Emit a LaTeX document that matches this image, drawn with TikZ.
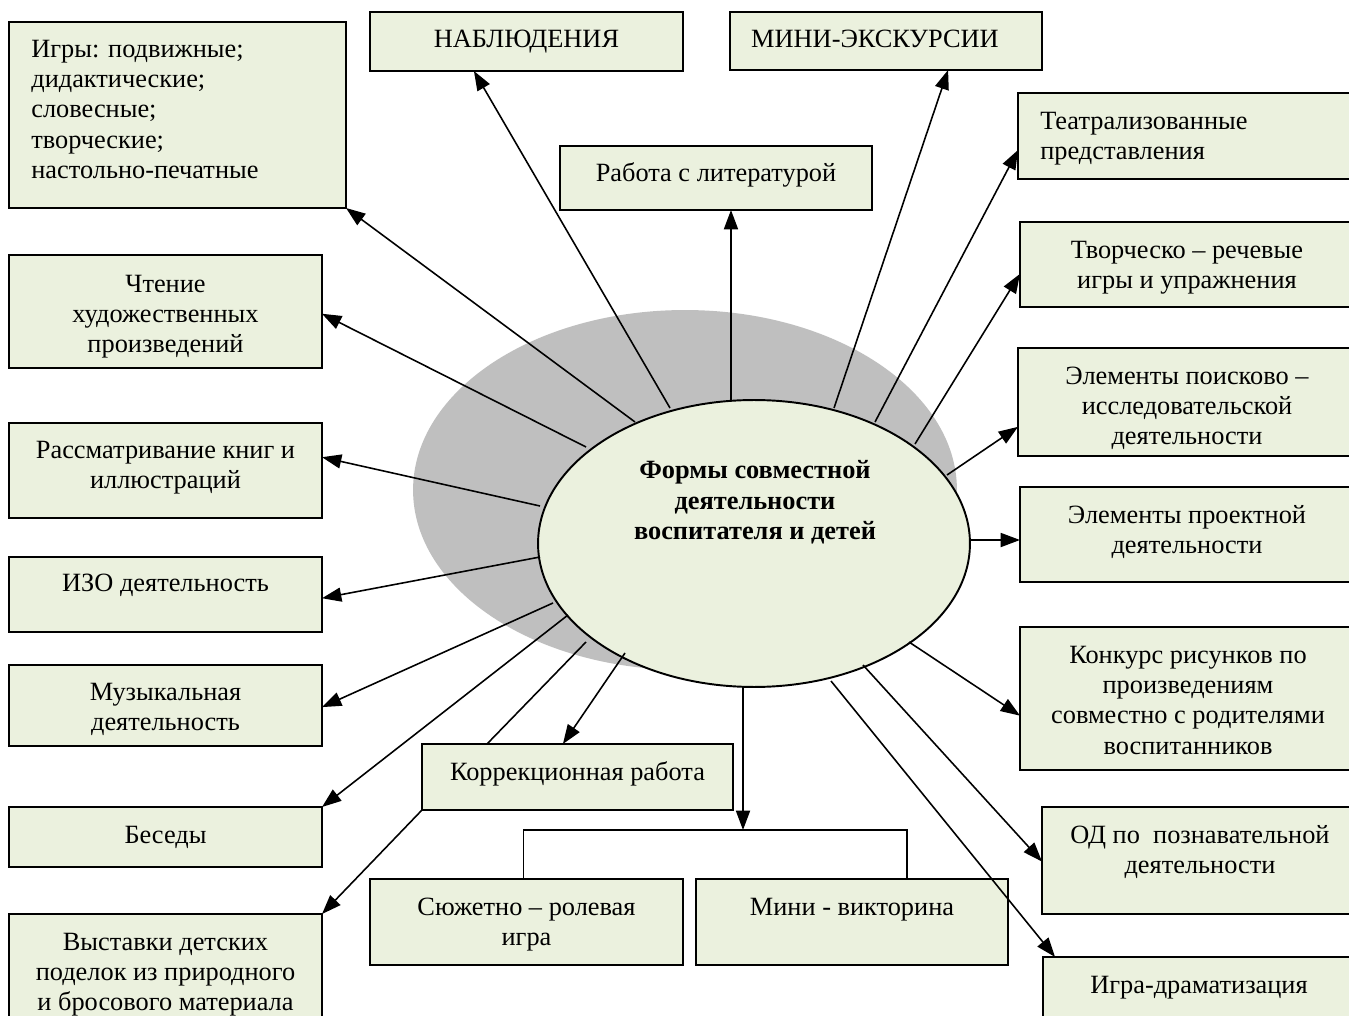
\documentclass[tikz,border=0pt]{standalone}
\usepackage{fontspec}
\setmainfont{Liberation Serif}
\usetikzlibrary{arrows.meta,shapes.geometric,calc}
\definecolor{boxfill}{RGB}{235,241,222}
\definecolor{shadegray}{RGB}{191,191,191}
\tikzset{
 box/.style={draw=black, fill=boxfill, line width=1.1pt, inner sep=0pt, outer sep=0pt, anchor=north west},
 txt/.style={inner sep=0pt, font=\fontsize{15}{17.2}\selectfont, align=center, anchor=base},
 ltxt/.style={txt, align=left, anchor=base west},
 conn/.style={draw=black, line width=0.9pt},
 arr/.style={conn, -{Triangle[length=11pt,width=8pt]}},
}
\newcommand\bx[5]{\node[box, minimum width={(#4-#2)*0.02cm}, minimum height={(#5-#3)*0.02cm}] (#1) at (#2,#3) {};}
\begin{document}
\begin{tikzpicture}[x=0.02cm,y=-0.02cm]
\useasboundingbox (0,0) rectangle (1349,1016);
\clip (0,0) rectangle (1349,1016);
\fill[white] (0,0) rectangle (1349,1016);
% shadow ellipse
\fill[shadegray] (685,490) ellipse [x radius=5.44cm, y radius=3.6cm];
% main ellipse
\node[ellipse, draw=black, fill=boxfill, line width=1.1pt, inner sep=0pt, minimum width=8.64cm, minimum height=5.74cm] (E) at (754,543.5) {};
\node[txt, font=\fontsize{15}{17.6}\selectfont\bfseries] (title) at (755,540) {Формы совместной\\деятельности\\воспитателя и детей};
% boxes
\bx{igry}{9}{22}{346}{208}
\bx{nabl}{370}{12}{683}{71}
\bx{mini}{730}{12}{1042}{70}
\bx{rabota}{560}{146}{872}{210}
\bx{teatr}{1018}{93}{1360}{179}
\bx{tvorch}{1020}{222}{1360}{307}
\bx{poisk}{1018}{348}{1360}{456}
\bx{proekt}{1020}{487}{1360}{582}
\bx{konk}{1020}{627}{1360}{770}
\bx{od}{1042}{807}{1360}{914}
\bx{igradr}{1043}{957}{1360}{1030}
\bx{chten}{9}{255}{322}{368}
\bx{rassm}{9}{423}{322}{518}
\bx{izo}{9}{557}{322}{632}
\bx{muz}{9}{665}{322}{746}
\bx{besedy}{9}{807}{322}{867}
\bx{vyst}{9}{914}{322}{1030}
\bx{korr}{422}{744}{733}{810}
\bx{syuzh}{370}{879}{683}{965}
\bx{minivik}{696}{879}{1008}{965}
% texts (anchor = baseline of the last line)
\node[ltxt] (t-igry) at (31,178.4) {Игры: подвижные;\\дидактические;\\словесные;\\творческие;\\настольно-печатные};
\node[txt] (t-nabl) at (526.5,48) {НАБЛЮДЕНИЯ};
\node[txt] (t-mini) at (875,48) {МИНИ-ЭКСКУРСИИ};
\node[txt] (t-rabota) at (716,182) {Работа с литературой};
\node[ltxt] (t-teatr) at (1040,159.3) {Театрализованные\\представления};
\node[txt] (t-tvorch) at (1187,288.3) {Творческо – речевые\\игры и упражнения};
\node[txt] (t-poisk) at (1187,444.7) {Элементы поисково –\\исследовательской\\деятельности};
\node[txt] (t-proekt) at (1187,553.3) {Элементы проектной\\деятельности};
\node[txt] (t-konk) at (1188,754) {Конкурс рисунков по\\произведениям\\совместно с родителями\\воспитанников};
\node[txt] (t-od) at (1200,873.3) {ОД по\ \ познавательной\\деятельности};
\node[txt] (t-igradr) at (1199,993) {Игра-драматизация};
\node[txt] (t-chten) at (165.5,352.7) {Чтение\\художественных\\произведений};
\node[txt] (t-rassm) at (165.5,488.3) {Рассматривание книг и\\иллюстраций};
\node[txt] (t-izo) at (165.5,592) {ИЗО деятельность};
\node[txt] (t-muz) at (165.5,730.3) {Музыкальная\\деятельность};
\node[txt] (t-besedy) at (165.5,843) {Беседы};
\node[txt] (t-vyst) at (165.5,1010.7) {Выставки детских\\поделок из природного\\и бросового материала};
\node[txt] (t-korr) at (577.5,780) {Коррекционная работа};
\node[txt] (t-syuzh) at (526.5,945.3) {Сюжетно – ролевая\\игра};
\node[txt] (t-minivik) at (852,915) {Мини - викторина};
% start points on the ellipse
\coordinate (sIgry) at (635,422);
\coordinate (sNabl) at (670,408);
\coordinate (sRab) at (731,400);
\coordinate (sMini) at (834,408);
\coordinate (sTeatr) at (875,422);
\coordinate (sTvorch) at (915,444);
\coordinate (sPoisk) at (947,475);
\coordinate (sProekt) at (970,540);
\coordinate (sKonk) at (909,642);
\coordinate (sOd) at (863,665);
\coordinate (sIgradr) at (831,681);
\coordinate (sDown) at (743,687);
\coordinate (sKorr) at (625,653);
\coordinate (sKorrL) at (586,642);
\coordinate (sBesedy) at (568,615);
\coordinate (sMuz) at (553,603);
\coordinate (sIzo) at (540,557);
\coordinate (sRassm) at (540,506);
\coordinate (sChten) at (586,447);
\coordinate (j) at (743,830);
% connectors
\draw[arr] (sIgry) -- (igry.south east);
\draw[arr] (sNabl) -- ($(nabl.south west)!0.332!(nabl.south east)$);
\draw[arr] (sRab) -- ($(rabota.south west)!0.548!(rabota.south east)$);
\draw[arr] (sMini) -- ($(mini.south west)!0.699!(mini.south east)$);
\draw[arr] (sTeatr) -- ($(teatr.north west)!0.663!(teatr.south west)$);
\draw[arr] (sTvorch) -- ($(tvorch.north west)!0.61!(tvorch.south west)$);
\draw[arr] (sPoisk) -- ($(poisk.north west)!0.73!(poisk.south west)$);
\draw[arr] (sProekt) -- ($(proekt.north west)!0.558!(proekt.south west)$);
\draw[arr] (sKonk) -- ($(konk.north west)!0.62!(konk.south west)$);
\draw[arr] (sOd) -- ($(od.north west)!0.51!(od.south west)$);
\draw[arr] (sIgradr) -- ($(igradr.north west)!0.038!(igradr.north east)$);
\draw[arr] (sDown) -- (j);
\draw[conn] ($(syuzh.north west)!0.49!(syuzh.north east)$) |- (j) -| ($(minivik.north west)!0.676!(minivik.north east)$);
\draw[arr] (sKorr) -- ($(korr.north west)!0.453!(korr.north east)$);
\draw[conn] (sKorrL) -- ($(korr.north west)!0.209!(korr.north east)$);
\draw[arr] (korr.south west) -- (vyst.north east);
\draw[arr] (sBesedy) -- (besedy.north east);
\draw[arr] (sMuz) -- ($(muz.north east)!0.52!(muz.south east)$);
\draw[arr] (sIzo) -- ($(izo.north east)!0.55!(izo.south east)$);
\draw[arr] (sRassm) -- ($(rassm.north east)!0.36!(rassm.south east)$);
\draw[arr] (sChten) -- ($(chten.north east)!0.52!(chten.south east)$);
\end{tikzpicture}
\end{document}
